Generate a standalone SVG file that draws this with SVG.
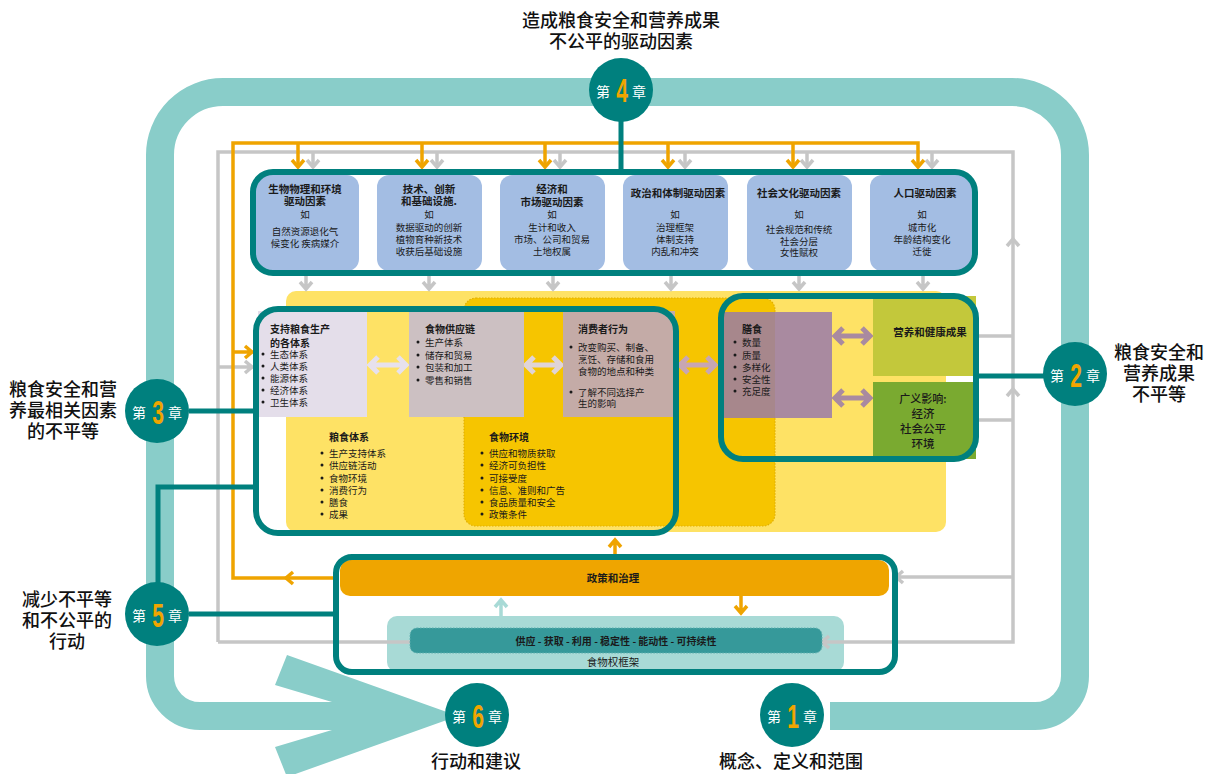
<svg xmlns="http://www.w3.org/2000/svg" width="1211" height="774" viewBox="0 0 1211 774">
<style>
.t{font-family:"Noto Sans CJK SC","Noto Sans",sans-serif;fill:#1a1a1a}
.b{font-weight:700}
.m{text-anchor:middle}
.lab{font-family:"Noto Sans CJK SC","Noto Sans",sans-serif;font-size:18px;font-weight:500;fill:#111;text-anchor:middle}
.g{stroke:#C6C6C6;stroke-width:3.5;fill:none}
.o{stroke:#EFA400;stroke-width:3.5;fill:none}
.tl{stroke:#00807E;stroke-width:5;fill:none}
.frame{fill:none;stroke:#00807E;stroke-width:6}
.chw{font-family:"Noto Sans CJK SC","Noto Sans",sans-serif;font-size:14px;fill:#fff;text-anchor:middle}
.chn{font-family:"Liberation Sans",sans-serif;font-size:34px;font-weight:700;fill:#F0A500;text-anchor:middle}
.d5{fill:none;stroke-width:5}
.dot{fill:#1a1a1a}
</style>

<g id="track">
<path d="M830 716 L1035 716 A40 40 0 0 0 1075 676 L1075 155 A63 63 0 0 0 1012 92 L223 92 A63 63 0 0 0 160 155 L160 676 A40 40 0 0 0 200 716 L340 716" fill="none" stroke="#89CDC9" stroke-width="28"/>
<polygon points="287,655 458,716 287,777 275,747 332,730 332,702 275,685" fill="#89CDC9"/>
</g>

<g id="food-panels">
<rect x="286" y="291" width="660" height="241" rx="10" fill="#FEE265"/>
<rect x="464" y="298" width="311" height="228" rx="12" fill="#F6C500" stroke="#E2B000" stroke-width="1.2" stroke-dasharray="1.5 1.5"/>
</g>

<g id="connectors">
<polyline class="g" points="218,642 218,152 1013,152 1013,642 218,642"/>
<path class="g" d="M313 152V167M437 152V167M560 152V167M685 152V167M807 152V167M932 152V167"/>
<path class="g" d="M307 160l6 7l6 -7M431 160l6 7l6 -7M554 160l6 7l6 -7M679 160l6 7l6 -7M801 160l6 7l6 -7M926 160l6 7l6 -7"/>
<path class="g" d="M218 367H253M245 361l7 6l-7 6"/>
<path class="g" d="M979 336H1013M979 420H1013M1013 577H896M903 571l-7 6l7 6"/>
<path class="g" d="M1007 246l6 -7l6 7M1007 396l6 -7l6 7"/>
<path class="g" d="M306 276V289M300 282l6 7l6 -7M429 276V289M423 282l6 7l6 -7M553 276V289M547 282l6 7l6 -7M671 276V289M665 282l6 7l6 -7M799 276V289M793 282l6 7l6 -7M923 276V289M917 282l6 7l6 -7"/>
<polyline class="o" points="336,578 233,578 233,143 918,143 918,167"/>
<path class="o" d="M298 143V167M422 143V167M545 143V167M668 143V167M793 143V167"/>
<path class="o" d="M292 160l6 7l6 -7M416 160l6 7l6 -7M539 160l6 7l6 -7M662 160l6 7l6 -7M787 160l6 7l6 -7M912 160l6 7l6 -7"/>
<path class="o" d="M233 352H253M245 346l7 6l-7 6M293 572l-7 6l7 6"/>
<path class="o" d="M615 557V540M609 547l6 -7l6 7"/>
<path class="o" d="M741 596V613M735 606l6 7l6 -7"/>
<path d="M501 616V600M495 607l6 -7l6 7" fill="none" stroke="#A8DAD6" stroke-width="3.5"/>
<path class="tl" d="M621 120V172M189 411H256M189 614H336M158 584V487H256M979 376H1045"/>
<path class="d5" stroke="#E7E1ED" d="M371 365H405M378 357l-8 8l8 8M398 357l8 8l-8 8"/>
<path class="d5" stroke="#E0D4D7" d="M527 365H560M534 357l-8 8l8 8M553 357l8 8l-8 8"/>
<path class="d5" stroke="#C8A6B2" d="M681 365H714M688 357l-8 8l8 8M707 357l8 8l-8 8"/>
<path class="d5" stroke="#A98AA0" d="M836 336H869M843 328l-8 8l8 8M862 328l8 8l-8 8"/>
<path class="d5" stroke="#A98AA0" d="M836 398H869M843 390l-8 8l8 8M862 390l8 8l-8 8"/>
</g>

<g id="drivers">
<rect x="255" y="175" width="104" height="96" rx="12" fill="#A3BDE3"/>
<rect x="377" y="175" width="105" height="96" rx="12" fill="#A3BDE3"/>
<rect x="500" y="175" width="105" height="96" rx="12" fill="#A3BDE3"/>
<rect x="623" y="175" width="105" height="96" rx="12" fill="#A3BDE3"/>
<rect x="747" y="175" width="105" height="96" rx="12" fill="#A3BDE3"/>
<rect x="870" y="175" width="104" height="96" rx="12" fill="#A3BDE3"/>
<rect class="frame" x="253" y="172" width="722" height="101" rx="20"/>
<g class="t m" font-size="10.5">
<text class="b" x="305" y="193">生物物理和环境</text>
<text class="b" x="305" y="205">驱动因素</text>
<text x="305" y="218" font-size="9.5">如</text>
<text x="305" y="235" font-size="9.5">自然资源退化气</text>
<text x="305" y="247" font-size="9.5">候变化 疾病媒介</text>
<text class="b" x="429" y="193">技术、创新</text>
<text class="b" x="429" y="205">和基础设施.</text>
<text x="429" y="218" font-size="9.5">如</text>
<text x="429" y="231" font-size="9.5">数据驱动的创新</text>
<text x="429" y="243" font-size="9.5">植物育种新技术</text>
<text x="429" y="255" font-size="9.5">收获后基础设施</text>
<text class="b" x="552" y="193">经济和</text>
<text class="b" x="552" y="206">市场驱动因素</text>
<text x="552" y="218" font-size="9.5">如</text>
<text x="552" y="231" font-size="9.5">生计和收入</text>
<text x="552" y="243" font-size="9.5">市场、公司和贸易</text>
<text x="552" y="255" font-size="9.5">土地权属</text>
<text class="b" x="678" y="197">政治和体制驱动因素</text>
<text x="675" y="218" font-size="9.5">如</text>
<text x="675" y="231" font-size="9.5">治理框架</text>
<text x="675" y="243" font-size="9.5">体制支持</text>
<text x="675" y="255" font-size="9.5">内乱和冲突</text>
<text class="b" x="799" y="197">社会文化驱动因素</text>
<text x="799" y="218" font-size="9.5">如</text>
<text x="799" y="233" font-size="9.5">社会规范和传统</text>
<text x="799" y="245" font-size="9.5">社会分层</text>
<text x="799" y="256" font-size="9.5">女性赋权</text>
<text class="b" x="925" y="197">人口驱动因素</text>
<text x="922" y="218" font-size="9.5">如</text>
<text x="922" y="231" font-size="9.5">城市化</text>
<text x="922" y="243" font-size="9.5">年龄结构变化</text>
<text x="922" y="255" font-size="9.5">迁徙</text>
</g>
</g>

<g id="food-systems">
<rect x="258" y="311" width="109" height="106" fill="#E4DEEA"/>
<rect x="409" y="311" width="115" height="106" fill="#CCC0C2"/>
<rect x="563" y="311" width="112" height="106" fill="#C4ABA7"/>
<rect class="frame" x="256" y="309" width="420" height="224" rx="22"/>
<g class="dot">
<circle cx="263" cy="354" r="1.5"/><circle cx="263" cy="366" r="1.5"/><circle cx="263" cy="378" r="1.5"/><circle cx="263" cy="390" r="1.5"/><circle cx="263" cy="402" r="1.5"/>
<circle cx="418" cy="342" r="1.5"/><circle cx="418" cy="355" r="1.5"/><circle cx="418" cy="367" r="1.5"/><circle cx="418" cy="380" r="1.5"/>
<circle cx="571" cy="347" r="1.5"/><circle cx="571" cy="392" r="1.5"/>
<circle cx="322" cy="453" r="1.5"/><circle cx="322" cy="465" r="1.5"/><circle cx="322" cy="478" r="1.5"/><circle cx="322" cy="490" r="1.5"/><circle cx="322" cy="502" r="1.5"/><circle cx="322" cy="514" r="1.5"/>
<circle cx="482" cy="453" r="1.5"/><circle cx="482" cy="465" r="1.5"/><circle cx="482" cy="478" r="1.5"/><circle cx="482" cy="490" r="1.5"/><circle cx="482" cy="502" r="1.5"/><circle cx="482" cy="514" r="1.5"/>
</g>
<g class="t" font-size="9.5">
<text class="b" x="270" y="333" font-size="10">支持粮食生产</text>
<text class="b" x="270" y="347" font-size="10">的各体系</text>
<text x="270" y="358">生态体系</text>
<text x="270" y="370">人类体系</text>
<text x="270" y="382">能源体系</text>
<text x="270" y="394">经济体系</text>
<text x="270" y="406">卫生体系</text>
<text class="b" x="425" y="333" font-size="10">食物供应链</text>
<text x="425" y="346">生产体系</text>
<text x="425" y="359">储存和贸易</text>
<text x="425" y="371">包装和加工</text>
<text x="425" y="384">零售和销售</text>
<text class="b" x="578" y="333" font-size="10">消费者行为</text>
<text x="578" y="351">改变购买、制备、</text>
<text x="578" y="363">烹饪、存储和食用</text>
<text x="578" y="375">食物的地点和种类</text>
<text x="578" y="396">了解不同选择产</text>
<text x="578" y="407">生的影响</text>
<text class="b" x="329" y="441" font-size="10">粮食体系</text>
<text x="329" y="457">生产支持体系</text>
<text x="329" y="469">供应链活动</text>
<text x="329" y="482">食物环境</text>
<text x="329" y="494">消费行为</text>
<text x="329" y="506">膳食</text>
<text x="329" y="518">成果</text>
<text class="b" x="489" y="441" font-size="10">食物环境</text>
<text x="489" y="457">供应和物质获取</text>
<text x="489" y="469">经济可负担性</text>
<text x="489" y="482">可接受度</text>
<text x="489" y="494">信息、准则和广告</text>
<text x="489" y="506">食品质量和安全</text>
<text x="489" y="518">政策条件</text>
</g>
</g>

<g id="outcomes">
<rect x="723" y="312" width="52" height="106" fill="#A7878C"/>
<rect x="775" y="312" width="57" height="106" fill="#A98AA0"/>
<rect x="873" y="296" width="103" height="80" fill="#C3C83B"/>
<rect x="873" y="382" width="103" height="77" fill="#7AAA30"/>
<rect class="frame" x="721" y="296" width="255" height="163" rx="22"/>
<g class="dot">
<circle cx="735" cy="342" r="1.5"/><circle cx="735" cy="355" r="1.5"/><circle cx="735" cy="367" r="1.5"/><circle cx="735" cy="379" r="1.5"/><circle cx="735" cy="391" r="1.5"/>
</g>
<g class="t" font-size="9.5">
<text class="b" x="742" y="333" font-size="10">膳食</text>
<text x="742" y="346">数量</text>
<text x="742" y="359">质量</text>
<text x="742" y="371">多样化</text>
<text x="742" y="383">安全性</text>
<text x="742" y="395">充足度</text>
<text class="b m" x="930" y="336" font-size="10.5">营养和健康成果</text>
<text class="m" x="923" y="403" font-size="11" font-weight="500">广义影响:</text>
<text class="m" x="923" y="418" font-size="11.5" font-weight="500">经济</text>
<text class="m" x="923" y="433" font-size="11.5" font-weight="500">社会公平</text>
<text class="m" x="923" y="448" font-size="11.5" font-weight="500">环境</text>
</g>
</g>

<g id="policy">
<rect x="387" y="616" width="457" height="56" rx="10" fill="#A8DAD6"/>
<path class="g" d="M387 642H410M822 642H844M829 636l-7 6l7 6"/>
<rect x="410" y="628" width="412" height="25" rx="7" fill="#36999A" stroke="#5FB0B0" stroke-width="1" stroke-dasharray="1.5 1.5"/>
<rect x="340" y="560" width="549" height="36" rx="10" fill="#EFA500"/>
<rect class="frame" x="336" y="557" width="559" height="115" rx="16"/>
<text class="t b m" x="613" y="582" font-size="10.5">政策和治理</text>
<text class="t b m" x="616" y="645" font-size="10">供应 - 获取 - 利用 - 稳定性 - 能动性 - 可持续性</text>
<text class="t m" x="613" y="666" font-size="10.5">食物权框架</text>
</g>

<g id="ch4">
<circle cx="621" cy="90" r="32" fill="#00807E"/>
<text class="chw" x="603" y="97">第</text>
<text class="chn" transform="translate(622 102) scale(0.62 1)">4</text>
<text class="chw" x="639" y="97">章</text>
</g>
<g id="ch3">
<circle cx="157" cy="411" r="32" fill="#00807E"/>
<text class="chw" x="139" y="418">第</text>
<text class="chn" transform="translate(158 424) scale(0.62 1)">3</text>
<text class="chw" x="175" y="418">章</text>
</g>
<g id="ch5">
<circle cx="157" cy="614" r="32" fill="#00807E"/>
<text class="chw" x="139" y="621">第</text>
<text class="chn" transform="translate(158 627) scale(0.62 1)">5</text>
<text class="chw" x="175" y="621">章</text>
</g>
<g id="ch2">
<circle cx="1075" cy="374" r="32" fill="#00807E"/>
<text class="chw" x="1057" y="381">第</text>
<text class="chn" transform="translate(1076 387) scale(0.62 1)">2</text>
<text class="chw" x="1093" y="381">章</text>
</g>
<g id="ch6">
<circle cx="477" cy="715" r="32" fill="#00807E"/>
<text class="chw" x="459" y="722">第</text>
<text class="chn" transform="translate(478 728) scale(0.62 1)">6</text>
<text class="chw" x="495" y="722">章</text>
</g>
<g id="ch1">
<circle cx="792" cy="715" r="32" fill="#00807E"/>
<text class="chw" x="774" y="722">第</text>
<text class="chn" transform="translate(793 728) scale(0.62 1)">1</text>
<text class="chw" x="810" y="722">章</text>
</g>

<g id="labels">
<text class="lab" x="621" y="27">造成粮食安全和营养成果</text>
<text class="lab" x="621" y="48">不公平的驱动因素</text>
<text class="lab" x="63" y="396">粮食安全和营</text>
<text class="lab" x="63" y="417">养最相关因素</text>
<text class="lab" x="63" y="438">的不平等</text>
<text class="lab" x="67" y="606">减少不平等</text>
<text class="lab" x="67" y="627">和不公平的</text>
<text class="lab" x="67" y="648">行动</text>
<text class="lab" x="1159" y="359">粮食安全和</text>
<text class="lab" x="1159" y="380">营养成果</text>
<text class="lab" x="1159" y="401">不平等</text>
<text class="lab" x="476" y="768">行动和建议</text>
<text class="lab" x="791" y="768">概念、定义和范围</text>
</g>
</svg>
